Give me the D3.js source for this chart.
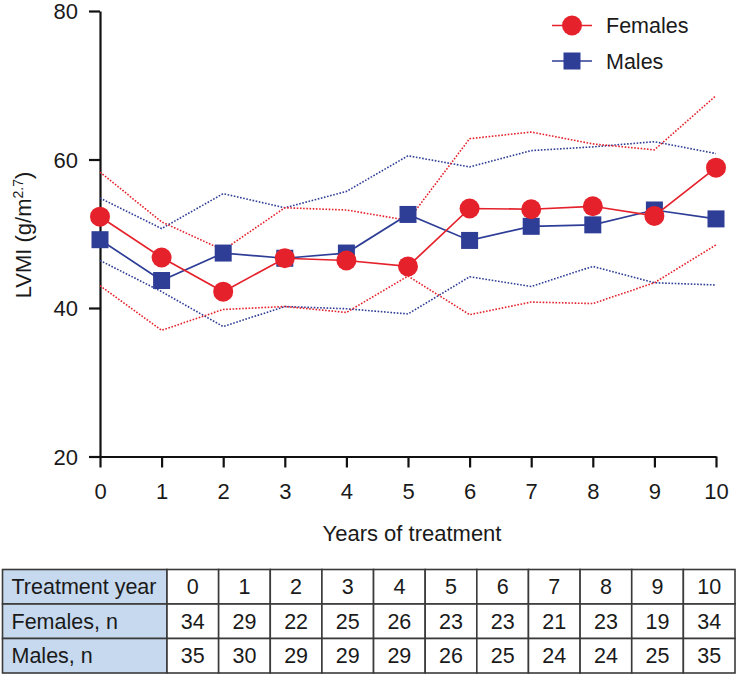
<!DOCTYPE html>
<html><head><meta charset="utf-8">
<script src="https://cdn.jsdelivr.net/npm/d3@7"></script>
<style>
html,body{margin:0;padding:0;background:#fff;}
svg text{font-family:"Liberation Sans",Arial,sans-serif;fill:#1a1a1a;}
</style></head>
<body><svg id="c" width="736" height="674"></svg>
<script>
const years = [0,1,2,3,4,5,6,7,8,9,10];
const femalesMean  = [52.3,46.8,42.2,46.7,46.4,45.6,53.4,53.3,53.7,52.4,58.9];
const femalesUpper = [58.3,51.6,47.8,53.5,53.2,51.8,62.8,63.7,62.1,61.3,68.6];
const femalesLower = [43.0,37.0,39.8,40.2,39.4,44.3,39.1,40.8,40.6,43.4,48.5];
const malesMean  = [49.2,43.7,47.4,46.7,47.4,52.6,49.1,51.0,51.2,53.2,52.0];
const malesUpper = [54.8,50.7,55.4,53.5,55.7,60.5,59.0,61.2,61.7,62.4,60.8];
const malesLower = [46.4,42.2,37.5,40.2,39.9,39.2,44.2,42.9,45.6,43.4,43.1];
const yTicks = [20,40,60,80];
const tableHeader = "Treatment year";
const femalesLabel = "Females, n";
const malesLabel = "Males, n";
const femalesN = [34,29,22,25,26,23,23,21,23,19,34];
const malesN   = [35,30,29,29,29,26,25,24,24,25,35];

const RED = "#e5222b", BLUE = "#2e3d96";
const svg = d3.select("#c");
const x = d3.scaleLinear().domain([0,10]).range([100,716]);
const y = d3.scaleLinear().domain([20,80]).range([456.5,11]);

// axes
const yAxis = svg.append("g").attr("transform","translate(100,0)")
  .call(d3.axisLeft(y).tickValues(yTicks).tickSize(11).tickPadding(11).tickSizeOuter(0));
const xAxis = svg.append("g").attr("transform","translate(0,456.5)")
  .call(d3.axisBottom(x).tickValues(years).tickSize(11).tickPadding(16).tickSizeOuter(0));
[yAxis,xAxis].forEach(g=>{
  g.select(".domain").attr("stroke","#111").attr("stroke-width",2.2);
  g.selectAll(".tick line").attr("stroke","#111").attr("stroke-width",2.2);
  g.selectAll(".tick text").attr("font-size",22).attr("fill","#1a1a1a")
   .style("font-family",'"Liberation Sans",Arial,sans-serif');
});
yAxis.selectAll(".tick text").attr("dy","0.36em");

// axis titles
svg.append("text").attr("x",412).attr("y",541).attr("text-anchor","middle")
  .attr("font-size",22).text("Years of treatment");
const yl = svg.append("text").attr("transform","translate(31,235) rotate(-90)")
  .attr("text-anchor","middle").attr("font-size",22);
yl.append("tspan").text("LVMI (g/m");
yl.append("tspan").attr("font-size",14).attr("dy","-8").text("2.7");
yl.append("tspan").attr("dy","8").text(")");

const line = d3.line().x((d,i)=>x(years[i])).y(d=>y(d));

// dotted bands
[[malesUpper,BLUE],[malesLower,BLUE],[femalesUpper,RED],[femalesLower,RED]].forEach(([arr,c])=>{
  svg.append("path").datum(arr).attr("d",line).attr("fill","none")
    .attr("stroke",c).attr("stroke-width",1.6).attr("stroke-dasharray","1.6 1.6");
});

// males
svg.append("path").datum(malesMean).attr("d",line).attr("fill","none")
  .attr("stroke",BLUE).attr("stroke-width",1.7);
svg.selectAll(".sq").data(malesMean).enter().append("rect")
  .attr("x",(d,i)=>x(years[i])-8.5).attr("y",d=>y(d)-8.5)
  .attr("width",17).attr("height",17).attr("fill",BLUE);
// females
svg.append("path").datum(femalesMean).attr("d",line).attr("fill","none")
  .attr("stroke",RED).attr("stroke-width",1.7);
svg.selectAll(".ci").data(femalesMean).enter().append("circle")
  .attr("cx",(d,i)=>x(years[i])).attr("cy",d=>y(d)).attr("r",10).attr("fill",RED);

// legend
const lg = svg.append("g");
lg.append("line").attr("x1",552).attr("x2",592).attr("y1",25.5).attr("y2",25.5).attr("stroke",RED).attr("stroke-width",1.7);
lg.append("circle").attr("cx",572).attr("cy",25.5).attr("r",10).attr("fill",RED);
lg.append("text").attr("x",606).attr("y",25.5).attr("dy","0.36em").attr("font-size",21.5).text("Females");
lg.append("line").attr("x1",552).attr("x2",592).attr("y1",61).attr("y2",61).attr("stroke",BLUE).attr("stroke-width",1.7);
lg.append("rect").attr("x",563.5).attr("y",52.5).attr("width",17).attr("height",17).attr("fill",BLUE);
lg.append("text").attr("x",606).attr("y",61).attr("dy","0.36em").attr("font-size",21.5).text("Males");

// table
const tTop = 569.5, rowH = 34.5, left = 2.5, firstW = 164.5, right = 735;
const colX = d3.scaleBand().domain(years).range([left+firstW, right]);
const rows = [[tableHeader, years],[femalesLabel, femalesN],[malesLabel, malesN]];
const tg = svg.append("g");
rows.forEach((r,ri)=>{
  const yy = tTop + ri*rowH;
  tg.append("rect").attr("x",left).attr("y",yy).attr("width",firstW).attr("height",rowH)
    .attr("fill","#c6d9ef").attr("stroke","#3a3a3a").attr("stroke-width",1.6);
  tg.append("text").attr("x",left+9).attr("y",yy+rowH/2).attr("dy","0.36em")
    .attr("font-size",21.5).text(r[0]);
  r[1].forEach((v,ci)=>{
    tg.append("rect").attr("x",colX(years[ci])).attr("y",yy).attr("width",colX.bandwidth()).attr("height",rowH)
      .attr("fill","#fff").attr("stroke","#3a3a3a").attr("stroke-width",1.6);
    tg.append("text").attr("x",colX(years[ci])+colX.bandwidth()/2).attr("y",yy+rowH/2).attr("dy","0.36em")
      .attr("text-anchor","middle").attr("font-size",21.5).text(v);
  });
});
</script></body></html>
